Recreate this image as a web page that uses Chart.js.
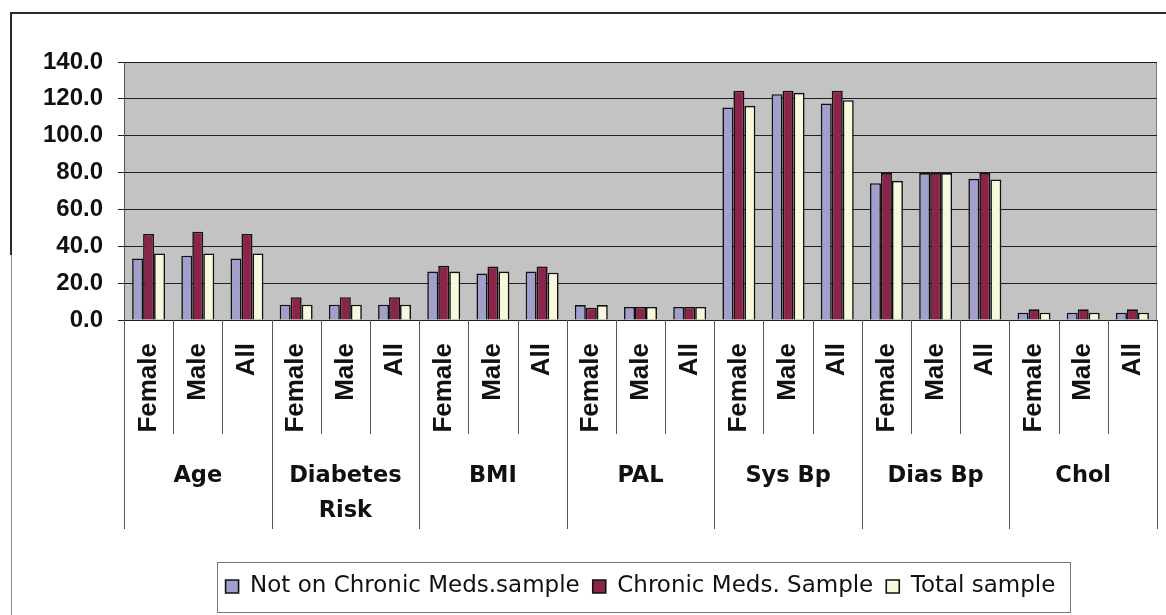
<!DOCTYPE html>
<html>
<head>
<meta charset="utf-8">
<script src="https://cdn.jsdelivr.net/npm/chart.js@4/dist/chart.umd.min.js"></script>
<style>
  html, body { margin: 0; padding: 0; background: #fff; }
  #wrap { position: absolute; left: 0; top: 0; width: 1166px; height: 615px; }
  .ln { position: absolute; pointer-events: none; }
</style>
</head>
<body>
<div id="wrap"><canvas id="c"></canvas></div>
<div class="ln" style="left:10px; top:12px; width:1156px; height:2px; background:#2a2a2a;"></div>
<div class="ln" style="left:10px; top:12px; width:2px; height:243px; background:#2a2a2a;"></div>
<div class="ln" style="left:11px; top:255px; width:1px; height:360px; background:#8a8a8a;"></div>
<script>
// ---- data ----
const categories = ['Female','Male','All','Female','Male','All','Female','Male','All','Female','Male','All',
                    'Female','Male','All','Female','Male','All','Female','Male','All'];
const groups = [['Age'], ['Diabetes','Risk'], ['BMI'], ['PAL'], ['Sys Bp'], ['Dias Bp'], ['Chol']];
const seriesNames = ['Not on Chronic Meds.sample', 'Chronic Meds. Sample', 'Total sample'];
const notOnMeds   = [33.4, 34.9, 33.4,  8.3,  8.3,  8.3, 26.3, 25.2, 26.3, 8.1, 7.1, 7.1, 115.3, 122.5, 117.5, 74.2, 79.7, 76.6, 4.0, 4.0, 4.0];
const chronicMeds = [46.7, 47.9, 46.7, 12.4, 12.4, 12.4, 29.4, 29.0, 29.0, 6.7, 7.1, 7.1, 124.4, 124.4, 124.4, 79.7, 79.7, 79.7, 5.8, 5.8, 5.8];
const totalSample = [36.1, 36.1, 36.1,  8.3,  8.3,  8.3, 26.3, 26.3, 25.7, 8.1, 7.1, 7.1, 116.2, 123.3, 119.3, 75.5, 79.7, 76.3, 4.0, 4.0, 4.0];
const yMin = 0, yMax = 140, yStep = 20;

// ---- plugins ----
const plotBg = {
  id: 'plotBg',
  beforeDraw(chart) {
    const a = chart.chartArea, ctx = chart.ctx;
    ctx.save();
    ctx.fillStyle = '#c3c3c3';
    ctx.fillRect(a.left, a.top, a.right - a.left, a.bottom - a.top);
    ctx.strokeStyle = '#7a7a7a';
    ctx.lineWidth = 1;
    ctx.strokeRect(a.left + 0.5, a.top + 0.5, a.right - a.left - 1, a.bottom - a.top);
    ctx.restore();
  }
};

const separators = {
  id: 'separators',
  afterDraw(chart) {
    const xs = chart.scales.x, x2 = chart.scales.x2, ctx = chart.ctx;
    const n = categories.length, per = n / groups.length;
    const band = (xs.right - xs.left) / n;
    ctx.save();
    ctx.strokeStyle = '#555';
    ctx.lineWidth = 1;
    for (let i = 0; i <= n; i++) {
      const px = Math.round(xs.left + i * band) + 0.5;
      const long = (i % per === 0);
      const yEnd = long ? x2.top + 95 : xs.bottom;
      ctx.beginPath();
      ctx.moveTo(px, xs.top);
      ctx.lineTo(px, yEnd);
      ctx.stroke();
    }
    ctx.restore();
  }
};

const legendFrame = {
  id: 'legendFrame',
  afterDraw(chart) {
    const hb = chart.legend && chart.legend.legendHitBoxes;
    if (!hb || !hb.length) return;
    const left = Math.min(...hb.map(h => h.left)) - 9;
    const right = Math.max(...hb.map(h => h.left + h.width)) + 14;
    const mid = hb[0].top + hb[0].height / 2;
    const ctx = chart.ctx;
    ctx.save();
    ctx.strokeStyle = '#777';
    ctx.lineWidth = 1;
    ctx.strokeRect(Math.round(left) + 0.5, Math.round(mid - 25) + 0.5, Math.round(right - left), 50);
    ctx.restore();
  }
};

function noSidePadding(s) { s.paddingLeft = 0; s.paddingRight = 0; }

const bw = 1.6;
new Chart(document.getElementById('c'), {
  type: 'bar',
  data: {
    labels: categories,
    datasets: [
      { label: seriesNames[0], data: notOnMeds,   backgroundColor: '#a19fcb', borderColor: '#111', borderWidth: bw },
      { label: seriesNames[1], data: chronicMeds, backgroundColor: '#8c2449', borderColor: '#111', borderWidth: bw },
      { label: seriesNames[2], data: totalSample, backgroundColor: '#f8f8dc', borderColor: '#111', borderWidth: bw }
    ]
  },
  options: {
    responsive: true,
    maintainAspectRatio: false,
    animation: false,
    layout: { padding: { left: 0, right: 9, top: 62, bottom: 7 } },
    datasets: { bar: { categoryPercentage: 0.67, barPercentage: 1.0 } },
    scales: {
      x: {
        type: 'category',
        position: 'bottom',
        offset: true,
        grid: { display: false, drawTicks: false },
        border: { display: false },
        ticks: {
          autoSkip: false, minRotation: 90, maxRotation: 90, padding: 23,
          color: '#111',
          font: { family: 'Liberation Sans, Arial, sans-serif', size: 26, weight: 'bold' }
        },
        afterFit(s) { s.height = 114; noSidePadding(s); }
      },
      x2: {
        type: 'category',
        axis: 'x',
        position: 'bottom',
        labels: groups,
        offset: true,
        grid: { display: false, drawTicks: false },
        border: { display: false },
        ticks: {
          autoSkip: false, minRotation: 0, maxRotation: 0, padding: 25,
          color: '#111',
          font: { family: 'DejaVu Sans, sans-serif', size: 22.5, weight: 'bold', lineHeight: 1.55 }
        },
        afterFit(s) { s.height = 128; noSidePadding(s); }
      },
      y: {
        min: yMin, max: yMax,
        border: { display: true, color: '#555', width: 1 },
        grid: { color: '#1e1e1e', lineWidth: 1, tickLength: 6, drawTicks: true },
        ticks: {
          stepSize: yStep, padding: 15, color: '#111',
          font: { family: 'Liberation Sans, Arial, sans-serif', size: 24, weight: 'bold' },
          callback: v => Number(v).toFixed(1)
        },
        afterFit(s) { s.width = 124; }
      }
    },
    plugins: {
      tooltip: { enabled: false },
      legend: {
        position: 'bottom',
        fullSize: false,
        labels: {
          boxWidth: 13, boxHeight: 13, padding: 13, color: '#111',
          font: { family: 'DejaVu Sans, sans-serif', size: 23 }
        }
      }
    }
  },
  plugins: [plotBg, separators, legendFrame]
});
</script>
</body>
</html>
